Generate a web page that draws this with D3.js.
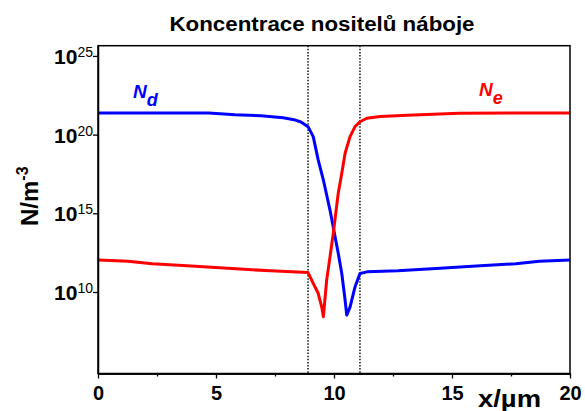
<!DOCTYPE html>
<html>
<head>
<meta charset="utf-8">
<script src="https://cdn.jsdelivr.net/npm/d3@7"></script>
<style>
  body { margin: 0; background: #fff; }
  text { font-family: "Liberation Sans", Arial, sans-serif; }
</style>
</head>
<body>
<div id="chart"></div>
<script>
// Data
const xNd = [0, 4.7, 5.8, 6.9, 7.85, 8.3, 8.6, 8.9, 9.12, 9.33, 9.55, 9.83, 10.18, 10.33, 10.47, 10.54, 10.68, 10.89, 11.1, 11.4, 12.7, 14.5, 16.2, 17.7, 18.7, 20];
const nd = [2.4e21, 2.4e21, 1.86e21, 1.58e21, 1.17e21, 8.9e20, 6.3e20, 3.2e20, 7.4e19, 2.5e18, 1.3e17, 1.6e15, 2.9e12, 1.5e11, 3.1e9, 3.4e8, 1.1e9, 2.1e10, 1.5e11, 1.9e11, 2.2e11, 3.2e11, 4.6e11, 6.3e11, 9.1e11, 1.07e12];

const xNe = [0, 1.27, 2.3, 3.77, 5.5, 7.3, 8.9, 9.12, 9.33, 9.48, 9.55, 9.69, 9.83, 9.97, 10.18, 10.33, 10.47, 10.68, 10.89, 11.1, 11.39, 11.95, 13.1, 15.3, 20];
const ne = [1.07e12, 9.1e11, 6.3e11, 4.6e11, 3.2e11, 2.2e11, 1.7e11, 3.5e10, 8.3e9, 1.1e9, 2.7e8, 5.8e10, 1.7e12, 5.4e13, 1.9e16, 3.5e17, 6.5e18, 7.4e19, 3.2e20, 6.6e20, 1.1e21, 1.4e21, 1.7e21, 2.3e21, 2.4e21];

const junction = [8.9, 11.1];           // dotted lines
const xMajor = [0, 5, 10, 15, 20];
const xMinor = [2.5, 7.5, 12.5, 17.5];
const yExp = [10, 15, 20, 25];

const width = 585, height = 411;
const box = { left: 98, right: 570, top: 45.7, bottom: 373.5 };

const svg = d3.select("#chart").append("svg")
    .attr("width", width)
    .attr("height", height);

const x = d3.scaleLinear().domain([0, 20]).range([box.left, box.right]);
const y = d3.scaleLog().domain([Math.pow(10, 4.82), Math.pow(10, 25.65)]).range([box.bottom, box.top]);

// title
svg.append("text")
    .attr("x", 322).attr("y", 31)
    .attr("text-anchor", "middle")
    .attr("textLength", 305).attr("lengthAdjust", "spacingAndGlyphs")
    .style("font-size", "20px").style("font-weight", "bold")
    .text("Koncentrace nositelů náboje");

// dotted junction lines
svg.selectAll(".junc").data(junction).enter().append("line")
    .attr("x1", d => x(d)).attr("x2", d => x(d))
    .attr("y1", box.top).attr("y2", box.bottom)
    .attr("stroke", "#111").attr("stroke-width", 1.5)
    .attr("stroke-dasharray", "1.5,1.6");

// curves
const line = d3.line().x(d => x(d[0])).y(d => y(d[1]));
svg.append("path")
    .datum(d3.zip(xNd, nd))
    .attr("d", line)
    .attr("fill", "none").attr("stroke", "#0000ff").attr("stroke-width", 3)
    .attr("stroke-linejoin", "round");
svg.append("path")
    .datum(d3.zip(xNe, ne))
    .attr("d", line)
    .attr("fill", "none").attr("stroke", "#ff0000").attr("stroke-width", 3)
    .attr("stroke-linejoin", "round");

// x axis
const xAxis = svg.append("g")
    .attr("transform", `translate(0,${box.bottom})`)
    .call(d3.axisBottom(x).tickValues(xMajor).tickSize(5).tickSizeOuter(0).tickPadding(7));
svg.append("g")
    .attr("transform", `translate(0,${box.bottom})`)
    .call(d3.axisBottom(x).tickValues(xMinor).tickSize(3).tickSizeOuter(0).tickFormat(""));
xAxis.selectAll("text")
    .style("font-size", "20px").style("font-weight", "bold")
    .style("font-family", "'Liberation Sans', Arial, sans-serif")
    .attr("fill", "#000");

// y axis
svg.append("g")
    .attr("transform", `translate(${box.left},0)`)
    .call(d3.axisLeft(y).tickValues(yExp.map(e => Math.pow(10, e))).tickSize(5).tickSizeOuter(0).tickFormat(""));
yExp.forEach(e => {
    const t = svg.append("text")
        .attr("x", box.left - 5).attr("y", y(Math.pow(10, e)) + 8)
        .attr("text-anchor", "end");
    t.append("tspan").style("font-size", "21px").style("font-weight", "bold").text("10");
    t.append("tspan").attr("dy", -7).style("font-size", "14px").text(e);
});

svg.selectAll(".domain").attr("stroke-width", 1.5);
svg.selectAll(".tick line").attr("stroke-width", 1.3);

// frame
svg.append("rect")
    .attr("x", box.left).attr("y", box.top)
    .attr("width", box.right - box.left).attr("height", box.bottom - box.top)
    .attr("fill", "none").attr("stroke", "#000").attr("stroke-width", 1.5);

// axis titles
const yl = svg.append("text")
    .attr("transform", "translate(38,226) rotate(-90)")
    .style("font-size", "24px").style("font-weight", "bold");
yl.append("tspan").text("N/m");
yl.append("tspan").attr("dy", -10).style("font-size", "16px").text("-3");

svg.append("text")
    .attr("x", 478).attr("y", 407)
    .attr("textLength", 63).attr("lengthAdjust", "spacingAndGlyphs")
    .style("font-size", "23px").style("font-weight", "bold")
    .text("x/µm");

// series labels
function seriesLabel(px, py, sub, color) {
    const t = svg.append("text")
        .attr("x", px).attr("y", py)
        .attr("fill", color)
        .style("font-weight", "bold").style("font-style", "italic");
    t.append("tspan").style("font-size", "19px").text("N");
    t.append("tspan").attr("dy", 8).style("font-size", "18px").text(sub);
}
seriesLabel(133, 98, "d", "#0000ff");
seriesLabel(479, 96, "e", "#ff0000");
</script>
</body>
</html>
